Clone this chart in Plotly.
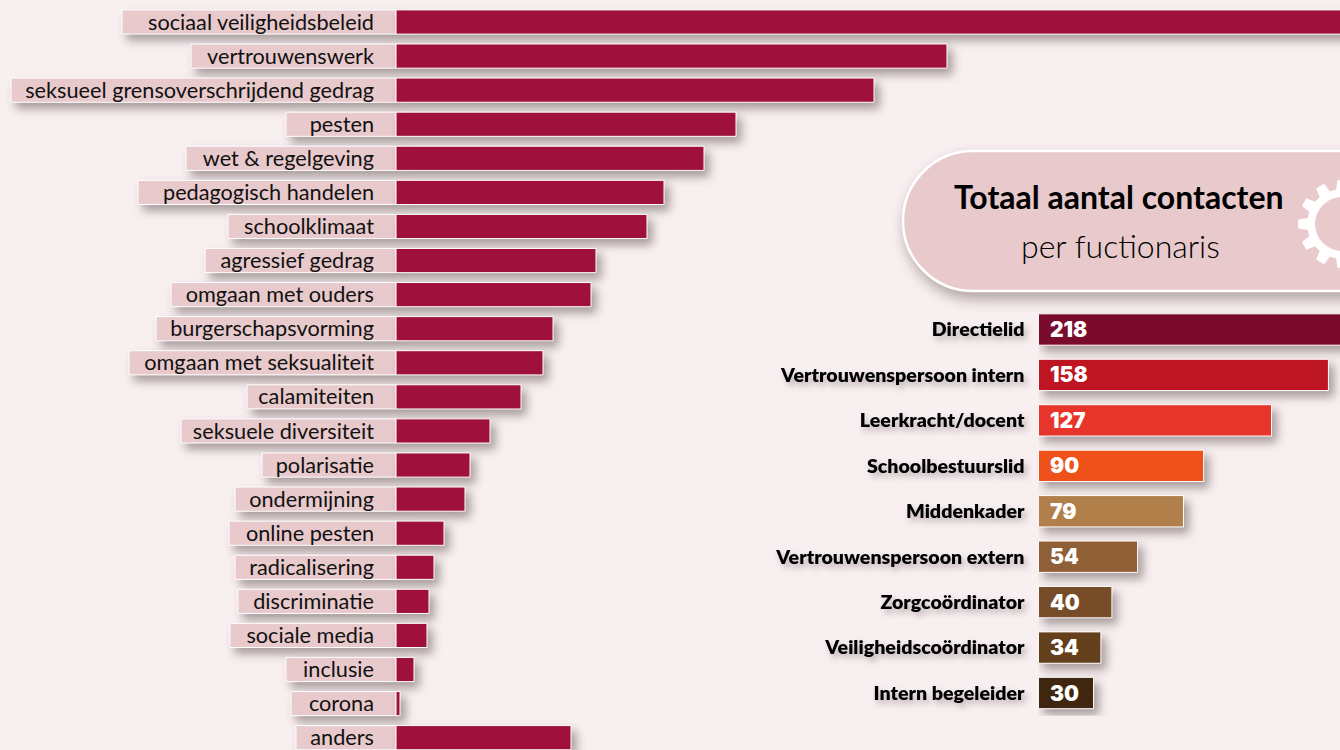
import math
import plotly.graph_objects as go

# ---- left chart: topics (bar lengths, relative units)
topics = ["sociaal veiligheidsbeleid", "vertrouwenswerk", "seksueel grensoverschrijdend gedrag",
          "pesten", "wet & regelgeving", "pedagogisch handelen", "schoolklimaat", "agressief gedrag",
          "omgaan met ouders", "burgerschapsvorming", "omgaan met seksualiteit", "calamiteiten",
          "seksuele diversiteit", "polarisatie", "ondermijning", "online pesten", "radicalisering",
          "discriminatie", "sociale media", "inclusie", "corona", "anders"]
topic_values = [1000, 551, 478, 340, 308, 268, 251, 200, 195, 157, 147, 125, 94, 74, 69, 48, 38, 33, 31, 18, 4, 175]
plate_sizes = [274, 205, 385, 110, 210, 258, 168, 191, 225, 240, 267, 149, 215, 134, 161, 167, 161, 158, 166, 110, 105, 100]

# ---- right chart: contacts per functionary
roles = ["Directielid", "Vertrouwenspersoon intern", "Leerkracht/docent", "Schoolbestuurslid", "Middenkader",
         "Vertrouwenspersoon extern", "Zorgcoördinator", "Veiligheidscoördinator", "Intern begeleider"]
role_values = [218, 158, 127, 90, 79, 54, 40, 34, 30]
role_colors = ["#7a0b2d", "#bd1622", "#e8352b", "#ee5119", "#b07f4a", "#8f5f36", "#764c29", "#633f1c", "#40260f"]

W, H = 1340, 750
BG = "#f8eff0"
PINK = "#e8c9cc"
WINE = "#a0103c"
FONT = "Lato"

fig = go.Figure()
fig.add_trace(go.Bar(y=topics, x=[-p for p in plate_sizes], orientation="h", width=0.71,
                     marker=dict(color=PINK, line=dict(color="white", width=1)),
                     xaxis="x", yaxis="y", hoverinfo="skip", showlegend=False))
fig.add_trace(go.Bar(y=topics, x=topic_values, orientation="h", width=0.71,
                     marker=dict(color=WINE, line=dict(color="white", width=1)),
                     xaxis="x", yaxis="y", showlegend=False))
fig.add_trace(go.Bar(y=roles, x=role_values, orientation="h", width=0.69,
                     marker=dict(color=role_colors, line=dict(color="white", width=1)),
                     xaxis="x2", yaxis="y2", showlegend=False))

annotations = [dict(xref="x2", yref="y2", x=0, y=r, text=str(v), showarrow=False, xanchor="left",
                    xshift=9.5, font=dict(family="Inter", size=21, color="white", weight=900))
               for r, v in zip(roles, role_values)]
annotations += [
    dict(xref="paper", yref="paper", x=1119 / W, y=1 - 197 / H, text="<b>Totaal aantal contacten</b>",
         xanchor="center", yanchor="middle",
         showarrow=False, font=dict(family=FONT, size=32, color="black")),
    dict(xref="paper", yref="paper", x=1120 / W, y=1 - 245 / H, text="per fuctionaris",
         xanchor="center", yanchor="middle",
         showarrow=False, font=dict(family=FONT, size=32, color="black", weight=300)),
]

# rounded title plate, continuing past the right edge
x0, x1, y0, y1 = 903, 1400, 151, 291
r = (y1 - y0) / 2
k = 0.5523 * r
pill = (f"M{x1/W},{1-y0/H} L{(x0+r)/W},{1-y0/H} "
        f"C{(x0+r-k)/W},{1-y0/H} {x0/W},{1-(y0+r-k)/H} {x0/W},{1-(y0+r)/H} "
        f"C{x0/W},{1-(y0+r+k)/H} {(x0+r-k)/W},{1-y1/H} {(x0+r)/W},{1-y1/H} "
        f"L{x1/W},{1-y1/H} Z")

# gear
cx, cy, ro, rb, rh = 1342, 224, 44, 35, 27
pts = []
for i in range(12):
    a = math.radians(i * 30)
    for da, rad in [(-9.5, rb), (-6, ro), (6, ro), (9.5, rb)]:
        t = a + math.radians(da)
        pts.append((cx + rad * math.cos(t), cy + rad * math.sin(t)))
gear = "M" + " L".join(f"{x/W},{1-y/H}" for x, y in pts) + " Z"

shapes = [
    dict(type="path", xref="paper", yref="paper", path=pill, fillcolor=PINK,
         line=dict(color="white", width=2.5), layer="below"),
    dict(type="path", xref="paper", yref="paper", path=gear, fillcolor="white",
         line=dict(width=0), layer="below"),
    dict(type="circle", xref="paper", yref="paper", x0=(cx - rh) / W, x1=(cx + rh) / W,
         y0=1 - (cy + rh) / H, y1=1 - (cy - rh) / H, fillcolor=PINK, line=dict(width=0), layer="below"),
]

row0, pitch = 22, 34.08
row2, pitch2 = 329.5, 45.44
d_top, d_bot = row2 - pitch2 / 2, row2 + 8.5 * pitch2
fig.update_layout(
    width=W, height=H, margin=dict(l=0, r=0, t=0, b=0), autosize=False,
    paper_bgcolor=BG, plot_bgcolor="rgba(0,0,0,0)", barmode="overlay",
    xaxis=dict(domain=[0, 1], range=[-396, 944], visible=False, fixedrange=True),
    yaxis=dict(domain=[0, 1], range=[(H - row0) / pitch, -row0 / pitch], anchor="free", position=396 / W,
               type="category", categoryorder="array", categoryarray=topics, dtick=1,
               showgrid=False, zeroline=False, showline=False, ticks="", ticklabelstandoff=22,
               tickfont=dict(family=FONT, size=21.7, color="#111111"), fixedrange=True),
    xaxis2=dict(domain=[1038.5 / W, 1], range=[0, (W - 1038.5) / 1.835], visible=False, anchor="y2", fixedrange=True),
    yaxis2=dict(domain=[1 - d_bot / H, 1 - d_top / H], range=[8.5, -0.5], anchor="x2",
                type="category", categoryorder="array", categoryarray=roles, dtick=1,
                showgrid=False, zeroline=False, showline=False, ticks="", ticklabelstandoff=13,
                tickfont=dict(family=FONT, size=19.6, color="#000000", weight=800), fixedrange=True),
    annotations=annotations, shapes=shapes,
)

post = """
document.documentElement.style.margin='0';
document.body.style.margin='0';
document.body.style.background='%s';
document.body.style.overflow='hidden';
function addShadows(){
  document.querySelectorAll('.barlayer .trace.bars').forEach(function(g){
    g.style.filter='drop-shadow(5px 6px 5px rgba(40,20,20,0.38))';});
  var s=document.querySelector('.layer-below .shapelayer path');
  if(s){s.style.filter='drop-shadow(3px 7px 7px rgba(40,20,20,0.35))';}
  document.querySelectorAll('.y2tick text').forEach(function(t){
    t.style.filter='drop-shadow(3px 4px 3px rgba(40,20,20,0.3))';});
}
addShadows();
setTimeout(addShadows,50);
""" % BG

fig.write_html("out.html", post_script=post, config={"displayModeBar": False})
